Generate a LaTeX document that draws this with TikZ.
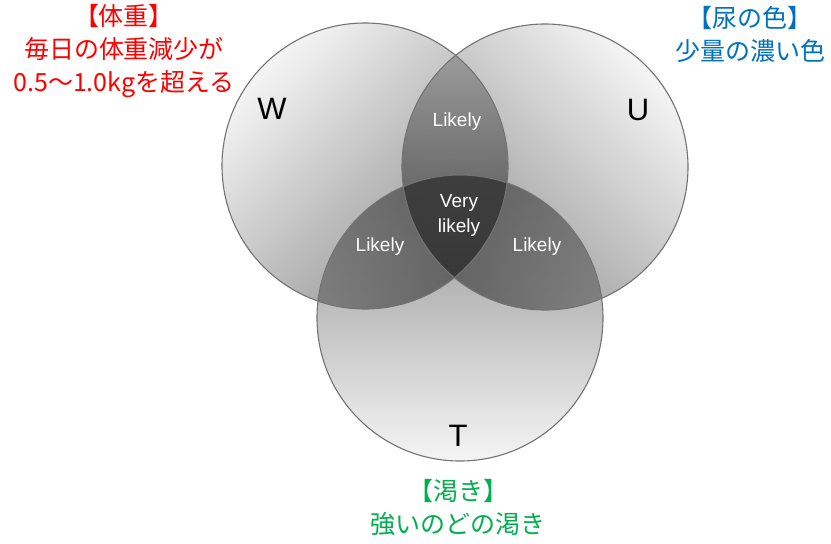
\documentclass[tikz,border=0pt]{standalone}
\usepackage{fontspec}
\setmainfont{Liberation Sans}
\newfontfamily\jp{Noto Sans CJK JP}
\definecolor{jred}{RGB}{255,0,0}
\definecolor{jblue}{RGB}{0,112,192}
\definecolor{jgreen}{RGB}{0,176,80}
\begin{document}
\begin{tikzpicture}[x=1pt,y=-1pt,
  setshade/.style={top color=black!4, bottom color=black!44, blend mode=multiply},
  setshadeT/.style={top color=black!44, bottom color=black!4, blend mode=multiply},
  setline/.style={draw=black!55, line width=1.1pt},
  jptext/.style={font=\jp\fontsize{25}{33}\selectfont, align=center, inner sep=0pt},
  letter/.style={font=\fontsize{31}{31}\selectfont, text=black, inner sep=0pt},
  region/.style={font=\fontsize{19}{25}\selectfont, text=white, align=center, inner sep=0pt}]
\useasboundingbox (0,0) rectangle (831,544);
\fill[white] (0,0) rectangle (831,544);
\coordinate (cW) at (365,166);
\coordinate (cU) at (545,167);
\coordinate (cT) at (460,318);
\shade[setshade, shading angle=45] (cW) circle[radius=143];
\shade[setshade, shading angle=-45] (cU) circle[radius=143];
\shade[setshadeT] (cT) circle[radius=143];
\draw[setline] (cW) circle[radius=143];
\draw[setline] (cU) circle[radius=143];
\draw[setline] (cT) circle[radius=143];
\node[letter] (W) at (272,109) {W};
\node[letter] (U) at (638,110) {U};
\node[letter] (T) at (458,436) {T};
\node[region] (lwu) at (457,122) {Likely};
\node[region] (lwt) at (380,247) {Likely};
\node[region] (lut) at (537,247) {Likely};
\node[region] (vl) at (459,215) {Very\\likely};
\node[jptext, text=jred] (wlab) at (124,51) {【体重】\\毎日の体重減少が\\0.5〜1.0kgを超える};
\node[jptext, text=jblue] (ulab) at (750,34) {【尿の色】\\少量の濃い色};
\node[jptext, text=jgreen] (tlab) at (458,508) {【渇き】\\強いのどの渇き};
\end{tikzpicture}
\end{document}
